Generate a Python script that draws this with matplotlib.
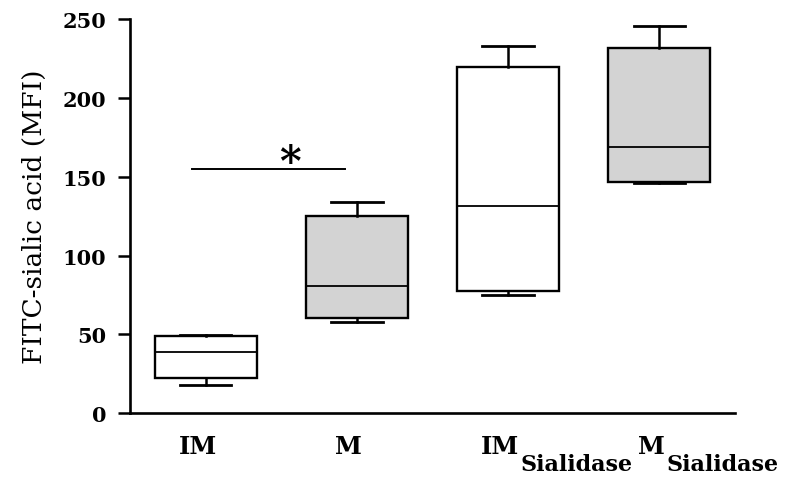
import matplotlib
matplotlib.use("Agg")
import matplotlib.pyplot as plt
from matplotlib.transforms import ScaledTranslation

# Box statistics (FITC-sialic acid, MFI)
groups = ["IM", "M", "IM", "M"]
subscripts = ["", "", "Sialidase", "Sialidase"]
whis_low = [17.8, 57.7, 74.9, 145.9]
q1 = [22.2, 60.3, 77.4, 146.6]
median = [38.7, 81.0, 131.4, 169.0]
q3 = [48.9, 125.0, 219.5, 231.6]
whis_high = [49.5, 134.0, 232.9, 246.0]
fills = ["white", "#d3d3d3", "white", "#d3d3d3"]
yticks = [0, 50, 100, 150, 200, 250]

# significance bar between IM and M
sig_x = [0.91, 1.92]
sig_y = 155

fig = plt.figure(figsize=(7.85, 4.81), dpi=100)
ax = fig.add_axes([0.1656, 0.139, 0.7707, 0.819])

stats = []
for i in range(len(groups)):
    stats.append({"whislo": whis_low[i], "q1": q1[i], "med": median[i],
                  "q3": q3[i], "whishi": whis_high[i], "fliers": []})

positions = list(range(1, len(groups) + 1))
bp = ax.bxp(stats, positions=positions, widths=0.675, patch_artist=True,
            showfliers=False, capwidths=0.34,
            boxprops=dict(linewidth=1.7, edgecolor="black"),
            medianprops=dict(color="black", linewidth=1.3),
            whiskerprops=dict(color="black", linewidth=1.8),
            capprops=dict(color="black", linewidth=2.0))
for patch, c in zip(bp["boxes"], fills):
    patch.set_facecolor(c)

ax.plot(sig_x, [sig_y, sig_y], color="black", linewidth=1.4)
ax.text(1.56, 158.5, "*", ha="center", va="center",
        fontsize=30, fontweight="bold", family="DejaVu Serif")

ax.set_xlim(0.5, 4.5)
ax.set_ylim(0, 250)
ax.set_yticks(yticks)
ax.set_yticklabels([str(v) for v in yticks], fontsize=15, fontweight="bold",
                   family="DejaVu Serif")
ax.tick_params(axis="y", length=9, width=1.8, pad=8)
ax.tick_params(axis="x", length=0, pad=15)
ax.set_xticks(positions)
ax.set_xticklabels(groups, fontsize=17.5, fontweight="bold", family="DejaVu Serif")
shift = ScaledTranslation(-8 / 100, 0, fig.dpi_scale_trans)
for lab in ax.get_xticklabels():
    lab.set_transform(lab.get_transform() + shift)

for s in ["top", "right"]:
    ax.spines[s].set_visible(False)
for s in ["left", "bottom"]:
    ax.spines[s].set_linewidth(1.9)

ax.set_ylabel("FITC-sialic acid (MFI)", fontsize=19, family="DejaVu Serif",
              labelpad=11)

# subscripts hang to the right of their tick labels
fig.canvas.draw()
renderer = fig.canvas.get_renderer()
for lab, sub in zip(ax.get_xticklabels(), subscripts):
    if not sub:
        continue
    bb = lab.get_window_extent(renderer)
    fig.text(bb.x1 / fig.dpi / fig.get_figwidth() + 0.002,
             bb.y0 / fig.dpi / fig.get_figheight() - 0.035,
             sub, ha="left", va="bottom", fontsize=16, fontweight="bold",
             family="DejaVu Serif")

fig.savefig("out.png", dpi=100)
